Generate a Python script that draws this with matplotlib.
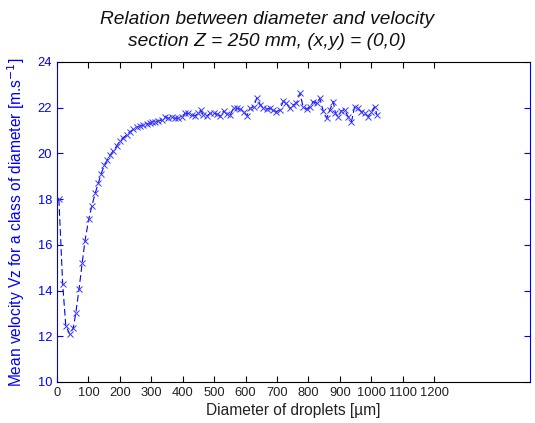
import matplotlib
matplotlib.use("Agg")
import matplotlib.pyplot as plt

plt.rcParams['font.family'] = ['Liberation Sans', 'DejaVu Sans']

diameter = [6, 18, 28, 41, 52, 60, 70, 80, 89, 101, 111, 122, 132, 140, 151, 160, 169, 179,
            190, 201, 211, 222, 232, 243, 253, 264, 275, 285, 296,
            301, 312, 322, 333, 344, 354, 365, 375, 386, 397, 407, 418, 428, 439, 450, 457,
            466, 477, 488, 498, 509, 520, 530, 541, 551, 562, 573, 583, 594, 604, 615, 626,
            636, 647, 656, 667, 677, 688, 698, 709, 720, 730, 741, 751, 762, 773, 783, 794,
            804, 815, 826, 836, 847, 858, 868, 879, 886, 894, 905, 915, 926, 937, 947, 958,
            968, 979, 990, 1000, 1011, 1018]
velocity = [18.0, 14.3, 12.45, 12.09, 12.38, 13.03, 14.05, 15.19, 16.17, 17.12, 17.71, 18.28,
            18.72, 19.1, 19.49, 19.71, 19.92, 20.12,
            20.33, 20.56, 20.69, 20.82, 20.95, 21.05, 21.14, 21.2, 21.24, 21.29, 21.33,
            21.36, 21.39, 21.42, 21.46, 21.61, 21.54, 21.58, 21.54, 21.54, 21.61, 21.75, 21.75,
            21.68, 21.65, 21.75, 21.90, 21.68, 21.65, 21.75, 21.78, 21.71, 21.65, 21.86, 21.71,
            21.68, 22.0, 21.97, 21.94, 21.83, 21.65, 21.97, 22.05, 22.44, 22.12, 22.0, 21.94,
            21.97, 21.90, 21.83, 21.90, 22.29, 22.19, 21.97, 22.12, 22.19, 22.63, 22.05, 21.94,
            22.05, 22.27, 22.19, 22.41, 21.86, 21.54, 21.90, 22.27, 21.75, 21.61, 21.86, 21.90,
            21.61, 21.39, 22.05, 21.97, 21.83, 21.75, 21.61, 21.83, 22.05, 21.68]

xticks = list(range(0, 1300, 100))
yticks = list(range(10, 26, 2))

fig = plt.figure(figsize=(5.35, 4.23), dpi=100)
ax = fig.add_axes([57/535, 41/423, 473/535, 320/423])

ax.plot(diameter, velocity, color='blue', linestyle=(0, (6, 3)), linewidth=0.8,
        marker='x', markersize=5, markeredgewidth=0.7, markeredgecolor='#3a3aff')

ax.set_xlim(0, 1505)
ax.set_ylim(10, 24)
ax.set_xticks(xticks)
ax.set_yticks(yticks)
ax.tick_params(direction='in', top=True, right=True, length=4, labelsize=9.3)
ax.tick_params(axis='x', colors='black', labelcolor='#222222')
ax.tick_params(axis='y', colors='blue', labelcolor='blue')
for s in ['left', 'right']:
    ax.spines[s].set_color('blue')
for s in ['top', 'bottom']:
    ax.spines[s].set_color('black')
for s in ax.spines.values():
    s.set_linewidth(0.8)

ax.set_xlabel('Diameter of droplets [µm]', fontsize=11.2, color='#222222', labelpad=3)
ax.set_ylabel('Mean velocity Vz for a class of diameter [m.s$^{-1}$]', fontsize=11.2,
              color='blue', labelpad=8)

fig.text(0.5, 1 - 20/423, 'Relation between diameter and velocity', ha='center', va='center',
         fontsize=13.8, style='italic', color='#111111')
fig.text(0.5, 1 - 42/423, 'section Z = 250 mm, (x,y) = (0,0)', ha='center', va='center',
         fontsize=13.8, style='italic', color='#111111')

fig.savefig('out.png', dpi=100)
